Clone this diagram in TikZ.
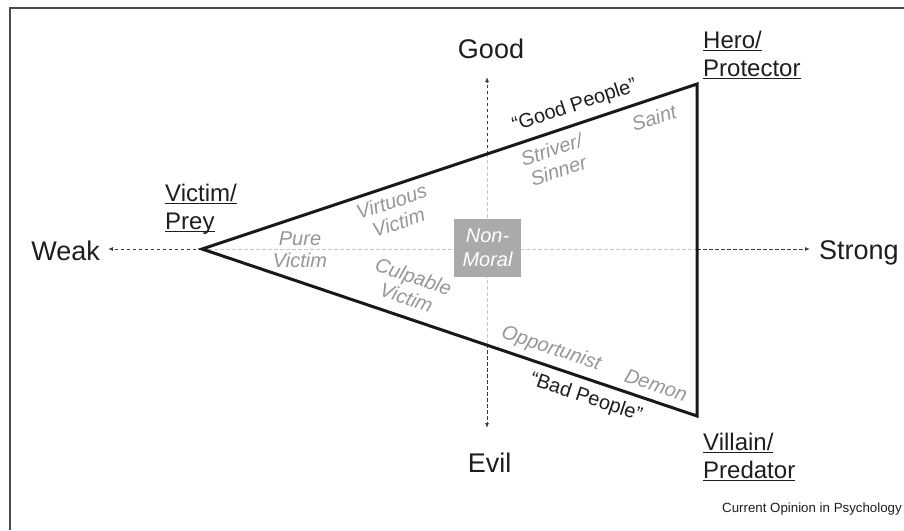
\documentclass[tikz,border=0pt]{standalone}
\usepackage{fontspec}
\setmainfont{Liberation Sans}
\usetikzlibrary{arrows.meta}
\definecolor{edgec}{RGB}{25,25,25}
\definecolor{axisdark}{RGB}{60,60,60}
\definecolor{axislight}{RGB}{200,200,200}
\definecolor{lblgray}{RGB}{150,150,150}
\definecolor{boxgray}{RGB}{170,170,172}
\definecolor{txtc}{RGB}{30,30,30}
\definecolor{framec}{RGB}{75,75,75}
\newcommand\myul[1]{\setbox0=\hbox{#1}\rlap{\rule[-3pt]{\wd0}{1.4pt}}\box0}
\begin{document}
\begin{tikzpicture}[x=1pt,y=-1pt,
  axislbl/.style={font=\fontsize{27}{30}\selectfont, text=txtc, inner sep=0pt},
  cornerlbl/.style={font=\fontsize{24}{28}\selectfont, text=txtc, inner sep=0pt, anchor=base west},
  region/.style={font=\fontsize{20}{22}\selectfont\itshape, text=lblgray, inner sep=0pt, align=center},
  people/.style={font=\fontsize{20}{22}\selectfont, text=txtc, inner sep=0pt},
  darkaxis/.style={draw=axisdark, line width=0.9pt, dash pattern=on 3.5pt off 2.5pt, -{Latex[length=5pt,width=4pt]}},
  lightaxis/.style={draw=axislight, line width=0.9pt, dash pattern=on 3.5pt off 2.5pt},
  tri/.style={draw=edgec, line width=3pt, line join=miter}
]
\useasboundingbox (0,0) rectangle (904,530);
\draw[draw=framec, line width=1.6pt] (10,530) -- (10,8) -- (904,8);

% triangle vertices and axis points
\coordinate (L) at (202,249);
\coordinate (T) at (697,84);
\coordinate (B) at (697,416);
\coordinate (R) at (697,249);
\coordinate (U) at (487,154);
\coordinate (D) at (487,344);
\coordinate (wtip) at (108,249);
\coordinate (stip) at (810,249);
\coordinate (gtip) at (487,77);
\coordinate (etip) at (487,428);

% axes
\draw[lightaxis] (L) -- (R);
\draw[lightaxis] (U) -- (D);
\draw[darkaxis] (L) -- (wtip);
\draw[darkaxis] (R) -- (stip);
\draw[darkaxis] (U) -- (gtip);
\draw[darkaxis] (D) -- (etip);

% triangle
\draw[tri] (L) -- (T) -- (B) -- cycle;

% non-moral box
\node[fill=boxgray, minimum width=67pt, minimum height=58pt, inner sep=0pt, text=white,
      font=\fontsize{20}{24}\selectfont\itshape, align=center] (nonmoral) at (487.5,248) {Non-\\Moral};

% axis labels
\node[axislbl, anchor=base] (good) at (491,58) {Good};
\node[axislbl, anchor=base] (evil) at (489.5,472) {Evil};
\node[axislbl, anchor=base east] (weak) at (100,260) {Weak};
\node[axislbl, anchor=base west] (strong) at (819,259) {Strong};

% corner labels
\node[cornerlbl] (hero) at (703,48) {\myul{Hero/}};
\node[cornerlbl] (protector) at (703,76) {\myul{Protector}};
\node[cornerlbl] (victim) at (165,201) {\myul{Victim/}};
\node[cornerlbl] (prey) at (165,229) {\myul{Prey}};
\node[cornerlbl] (villain) at (703,450) {\myul{Villain/}};
\node[cornerlbl] (predator) at (703,478) {\myul{Predator}};

% region labels
\node[region] (pure) at (300,250) {Pure\\Victim};
\node[region, rotate=18.4] (virtuous) at (395,212) {Virtuous\\Victim};
\node[region, rotate=-18.4] (culpable) at (410,287) {Culpable\\Victim};
\node[region, rotate=18.4] (striver) at (555,160) {Striver/\\Sinner};
\node[region, rotate=18.4] (saint) at (654,118) {Saint};
\node[region, rotate=-18.4] (opp) at (551,349) {Opportunist};
\node[region, rotate=-18.4] (demon) at (656,385) {Demon};
\node[people, rotate=18.4] (goodp) at (575,106) {“Good People”};
\node[people, rotate=-18.4] (badp) at (586,398) {“Bad People”};

% source
\node[inner sep=0pt, anchor=base east, text=txtc, font=\fontsize{13.3}{15}\selectfont] (source) at (902,512) {Current Opinion in Psychology};
\end{tikzpicture}
\end{document}
